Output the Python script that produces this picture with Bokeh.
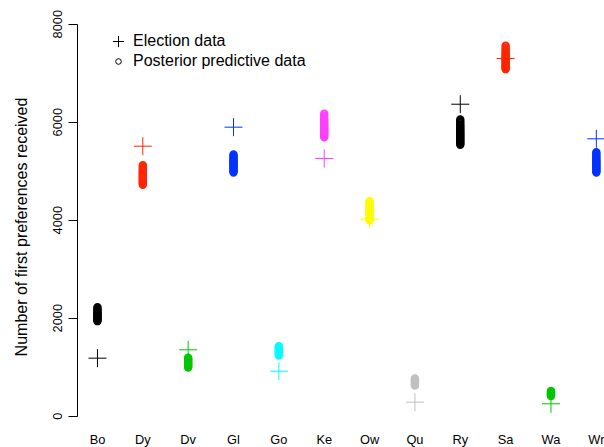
from bokeh.plotting import figure
from bokeh.models import (ColumnDataSource, Range1d, FixedTicker, Legend,
                          LegendItem)
from bokeh.embed import file_html
from bokeh.resources import INLINE

# Candidates and their plotting colours (R's classic palette, recycled)
candidates = ["Bo", "Dy", "Dv", "Gl", "Go", "Ke", "Ow", "Qu", "Ry", "Sa", "Wa", "Wr"]
colors = ["#000000", "#FF2600", "#00C800", "#0433FF", "#00FDFF", "#FF40FF",
          "#FFFB00", "#C0C0C0", "#000000", "#FF2600", "#00C800", "#0433FF"]

# Observed first-preference counts
election = [1184, 5510, 1355, 5898, 918, 5259, 4020, 286, 6367, 7300, 253, 5661]

# Posterior predictive draws of first-preference counts, per candidate
post_bo = [1939, 1958, 1975, 1994, 2010, 2027, 2046, 2063, 2081, 2100, 2122, 2145, 2168, 2196, 2224]
post_dy = [4722, 4745, 4768, 4790, 4812, 4835, 4856, 4878, 4899, 4921, 4943, 4966, 4988, 5011, 5036, 5062, 5090, 5122]
post_dv = [994, 1012, 1030, 1047, 1064, 1081, 1098, 1116, 1134, 1152, 1171, 1192]
post_gl = [4973, 4995, 5016, 5038, 5059, 5080, 5101, 5122, 5143, 5165, 5187, 5210, 5233, 5257, 5283, 5310, 5341]
post_go = [1239, 1257, 1274, 1291, 1308, 1325, 1342, 1360, 1378, 1397, 1412, 1429]
post_ke = [5694, 5716, 5738, 5760, 5781, 5803, 5825, 5846, 5868, 5890, 5912, 5934, 5957, 5980, 6004, 6030, 6058, 6088, 6125, 6171]
post_ow = [3994, 4014, 4035, 4056, 4078, 4099, 4120, 4142, 4163, 4185, 4207, 4229, 4252, 4276, 4302, 4330, 4358, 4388]
post_qu = [626, 642, 658, 674, 690, 706, 722, 738, 753, 769]
post_ry = [5539, 5560, 5582, 5604, 5626, 5648, 5670, 5692, 5714, 5736, 5758, 5780, 5803, 5826, 5850, 5875, 5901, 5928, 5956, 5988, 6020, 6055]
post_sa = [7082, 7104, 7126, 7148, 7170, 7192, 7214, 7236, 7258, 7280, 7302, 7325, 7348, 7372, 7397, 7423, 7452, 7484, 7519, 7559]
post_wa = [412, 424, 436, 448, 459, 470, 481, 492, 503, 514]
post_wr = [4973, 4994, 5015, 5037, 5058, 5080, 5102, 5124, 5146, 5169, 5192, 5216, 5241, 5267, 5295, 5324, 5355, 5388]

posterior = [post_bo, post_dy, post_dv, post_gl, post_go, post_ke,
             post_ow, post_qu, post_ry, post_sa, post_wa, post_wr]

y_ticks = [0, 2000, 4000, 6000, 8000]

FONT = "Liberation Sans"

# Flatten the posterior draws into one source
px, py, pc = [], [], []
for i, draws in enumerate(posterior):
    for v in draws:
        px.append(i + 1)
        py.append(v)
        pc.append(colors[i])
post_src = ColumnDataSource(dict(x=px, y=py, color=pc))

elec_src = ColumnDataSource(dict(x=list(range(1, len(candidates) + 1)),
                                 y=election, color=colors))

p = figure(width=604, height=447, output_backend="svg", toolbar_location=None,
           x_range=Range1d(0.56, 12.18), y_range=Range1d(-639, 8361),
           min_border_left=77, min_border_right=0, min_border_top=6,
           min_border_bottom=0, background_fill_color="white",
           border_fill_color="white")
p.outline_line_color = None
p.grid.visible = False

p.scatter("x", "y", source=post_src, marker="circle", size=6.4,
          fill_color=None, line_color="color", line_width=2)
cross = p.scatter("x", "y", source=elec_src, marker="cross", size=18,
                  line_color="color", line_width=1)

# Key glyph for the posterior draws: a thin open circle with an
# undefined position, so it only shows up in the legend
key_src = ColumnDataSource(dict(x=[float("nan")], y=[float("nan")]))
key_circ = p.scatter("x", "y", source=key_src, marker="circle",
                     fill_color=None, line_color="black", line_width=1)

# y axis: R-style, line spanning the tick range only
ya = p.yaxis[0]
ya.ticker = FixedTicker(ticks=y_ticks)
ya.bounds = (0, 8000)
ya.minor_tick_line_color = None
ya.major_tick_in = 0
ya.major_tick_out = 9
ya.axis_line_color = "black"
ya.major_tick_line_color = "black"
ya.major_label_orientation = "vertical"
ya.major_label_standoff = 6
ya.major_label_text_font = FONT
ya.major_label_text_font_size = "12.8px"
ya.major_label_text_color = "black"
ya.axis_label = "Number of first preferences received"
ya.axis_label_text_font = FONT
ya.axis_label_text_font_size = "16px"
ya.axis_label_text_font_style = "normal"
ya.axis_label_text_color = "black"
ya.axis_label_standoff = 21

# x axis: candidate names only, no line or ticks, just under the data
xa = p.xaxis[0]
xa.fixed_location = -271
xa.ticker = FixedTicker(ticks=list(range(1, len(candidates) + 1)))
xa.major_label_overrides = {i + 1: c for i, c in enumerate(candidates)}
xa.axis_line_color = None
xa.major_tick_line_color = None
xa.minor_tick_line_color = None
xa.major_tick_out = 0
xa.major_tick_in = 0
xa.major_label_standoff = 3
xa.major_label_text_font = FONT
xa.major_label_text_font_size = "12.8px"
xa.major_label_text_color = "black"

# Two single-item legends so each key glyph gets its own size
leg1 = Legend(items=[LegendItem(label="Election data", renderers=[cross], index=0)],
              location=(27, 392), glyph_width=28, glyph_height=28,
              label_height=28, label_standoff=1, padding=0, margin=0,
              spacing=0, border_line_color=None, background_fill_alpha=0,
              label_text_font=FONT, label_text_font_size="16px",
              label_text_color="black")
leg2 = Legend(items=[LegendItem(label="Posterior predictive data", renderers=[key_circ], index=0)],
              location=(34, 375), glyph_width=14, glyph_height=22,
              label_height=22, label_standoff=8, padding=0, margin=0,
              spacing=0, border_line_color=None, background_fill_alpha=0,
              label_text_font=FONT, label_text_font_size="16px",
              label_text_color="black")
p.add_layout(leg1, "center")
p.add_layout(leg2, "center")

open("out.html", "w").write(file_html(p, INLINE))
